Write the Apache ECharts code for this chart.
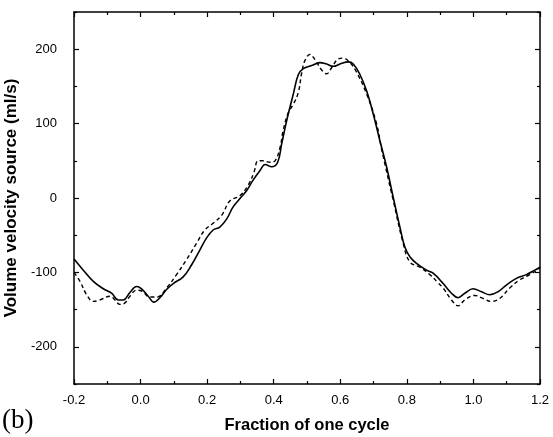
<!DOCTYPE html>
<html>
<head>
<meta charset="utf-8">
<script src="https://cdn.jsdelivr.net/npm/echarts@6/dist/echarts.min.js"></script>
<style>
html,body{margin:0;padding:0;background:#fff;}
#chart{width:553px;height:437px;}
</style>
</head>
<body>
<div id="chart"></div>
<script>
// ---- data ----
var xTickValues = [-0.2, 0.0, 0.2, 0.4, 0.6, 0.8, 1.0, 1.2];
var yTickValues = [-200, -100, 0, 100, 200];
var yMinorTickValues = [-250, -150, -50, 50, 150, 250];

var solidCurve = [
  [-0.2,-82],[-0.172,-97],[-0.142,-112],[-0.112,-122],[-0.087,-128],[-0.067,-137],[-0.052,-137],
  [-0.032,-127],[-0.012,-119],[0.003,-122],[0.023,-132],[0.04,-140],[0.058,-134],[0.078,-123],
  [0.098,-115],[0.128,-106],[0.153,-90],[0.178,-70],[0.198,-54],[0.218,-43],[0.238,-39],
  [0.259,-28],[0.278,-12],[0.298,-1],[0.319,10],[0.338,24],[0.359,37],[0.374,45],[0.394,42],
  [0.412,48],[0.424,73],[0.439,104],[0.459,140],[0.474,166],[0.489,174],[0.514,178],[0.539,182],
  [0.559,180],[0.579,177],[0.599,180],[0.624,183],[0.639,180],[0.659,166],[0.679,144],[0.699,113],
  [0.719,77],[0.739,42],[0.759,1],[0.779,-39],[0.794,-66],[0.809,-79],[0.829,-88],[0.859,-97],
  [0.879,-101],[0.909,-115],[0.934,-128],[0.954,-134],[0.974,-128],[0.999,-122],[1.024,-126],
  [1.049,-130],[1.074,-126],[1.099,-117],[1.129,-108],[1.159,-103],[1.184,-97],[1.2,-93]
];

var dashedCurve = [
  [-0.2,-100],[-0.182,-112],[-0.162,-130],[-0.142,-139],[-0.122,-137],[-0.092,-132],[-0.077,-137],
  [-0.062,-143],[-0.047,-141],[-0.032,-132],[-0.012,-124],[0.003,-125],[0.028,-133],[0.05,-133],
  [0.078,-121],[0.108,-103],[0.138,-83],[0.168,-61],[0.193,-43],[0.218,-34],[0.244,-23],
  [0.268,-4],[0.298,3],[0.323,17],[0.341,35],[0.353,50],[0.369,50],[0.389,48],[0.404,50],
  [0.419,68],[0.429,92],[0.444,115],[0.459,126],[0.474,142],[0.484,168],[0.494,185],[0.509,193],
  [0.524,186],[0.544,172],[0.559,167],[0.574,175],[0.594,187],[0.609,188],[0.629,182],[0.649,169],
  [0.679,140],[0.709,100],[0.724,66],[0.759,-3],[0.789,-61],[0.809,-86],[0.839,-93],[0.869,-103],
  [0.894,-114],[0.909,-121],[0.934,-137],[0.954,-145],[0.974,-137],[1.004,-131],[1.029,-135],
  [1.054,-139],[1.079,-135],[1.109,-121],[1.139,-110],[1.169,-103],[1.194,-96],[1.2,-93]
];

var xTitle = 'Fraction of one cycle';
var yTitle = 'Volume velocity source (ml/s)';
var panelLabel = '(b)';

// ---- chart ----
var chart = echarts.init(document.getElementById('chart'), null, {renderer: 'canvas'});
var black = '#000';
var lineStyle = {color: black, width: 1.5};
var font = 'Liberation Sans, Arial, Helvetica, sans-serif';

function xAx(pos, show) {
  return {
    type: 'value', position: pos, min: -0.2, max: 1.2, interval: 0.2,
    axisLine: {show: true, onZero: false, lineStyle: lineStyle},
    axisTick: {show: true, inside: true, length: 5, customValues: xTickValues,
      lineStyle: {color: black, width: 1.2}},
    minorTick: {show: true, splitNumber: 2, length: 3, lineStyle: {color: black, width: 1.2}},
    splitLine: {show: false}, minorSplitLine: {show: false},
    axisLabel: {show: show, margin: 10, color: black, fontSize: 13, fontFamily: font,
      customValues: xTickValues,
      formatter: function (v) { return v.toFixed(1); }},
    name: show ? xTitle : '', nameLocation: 'middle', nameGap: 33,
    nameTextStyle: {color: black, fontSize: 16.5, fontWeight: 'bold', fontFamily: font}
  };
}
function yAx(pos, show, major) {
  return {
    type: 'value', position: pos, min: -250, max: 250, interval: 50,
    axisLine: {show: major, onZero: false, lineStyle: lineStyle},
    axisTick: {show: true, inside: true, length: major ? 5 : 3,
      customValues: major ? yTickValues : yMinorTickValues,
      lineStyle: {color: black, width: 1.2}},
    splitLine: {show: false},
    axisLabel: {show: show, customValues: yTickValues, margin: 17, color: black,
      fontSize: 13, fontFamily: font},
    name: show ? yTitle : '', nameLocation: 'middle', nameGap: 43, nameRotate: 90,
    nameTextStyle: {color: black, fontSize: 17, fontWeight: 'bold', fontFamily: font}
  };
}

chart.setOption({
  animation: false,
  backgroundColor: '#fff',
  grid: {left: 74, right: 13, top: 12, bottom: 53, containLabel: false, outerBoundsMode: 'none'},
  xAxis: [xAx('bottom', true), xAx('top', false)],
  yAxis: [yAx('left', true, true), yAx('right', false, true),
          yAx('left', false, false), yAx('right', false, false)],
  graphic: [{
    type: 'text', left: 2, top: 407,
    style: {text: panelLabel, fill: black, fontSize: 27,
      fontFamily: 'Liberation Serif, Times New Roman, serif'}
  }],
  series: [
    {type: 'line', xAxisIndex: 0, yAxisIndex: 0, data: solidCurve, smooth: 0.4,
     showSymbol: false, symbol: 'none', lineStyle: {color: black, width: 1.6, type: 'solid'}},
    {type: 'line', xAxisIndex: 0, yAxisIndex: 0, data: dashedCurve, smooth: 0.4,
     showSymbol: false, symbol: 'none', lineStyle: {color: black, width: 1.4, type: [4, 3]}}
  ]
});
</script>
</body>
</html>
